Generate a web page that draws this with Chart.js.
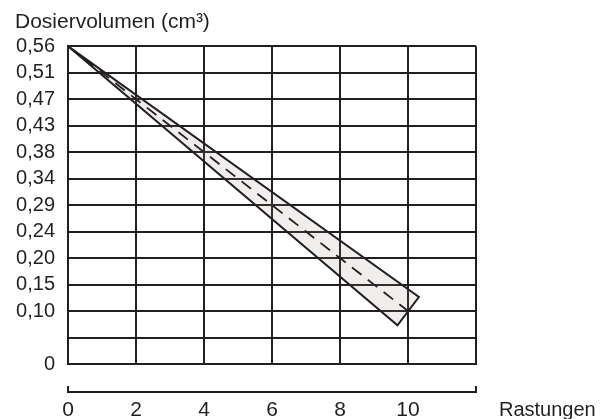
<!DOCTYPE html>
<html lang="de">
<head>
    <meta charset="UTF-8">
    <title>Dosiervolumen</title>
    <script src="https://cdn.jsdelivr.net/npm/chart.js"></script>
    <style>
        html, body { margin: 0; padding: 0; background: #fff; }
        .chart-box { width: 608px; height: 419px; }
    </style>
</head>
<body>
    <div class="chart-box">
        <canvas id="doseChart" width="608" height="419"></canvas>
    </div>
    <script>
    // y axis is drawn in equal grid rows, the labels are the printed volumes
    const yTickLabels = ['0', '', '0,10', '0,15', '0,20', '0,24', '0,29', '0,34', '0,38', '0,43', '0,47', '0,51', '0,56'];
    const xTicks = [0, 2, 4, 6, 8, 10];
    // nominal (dashed) line, grid rows
    const nominalX = [0, 10];
    const nominalY = [12, 2];
    // tolerance band outline, grid rows
    const bandX = [0, 10.32, 9.69, 0];
    const bandY = [12, 2.53, 1.46, 12];

    const ink = '#231f20';
    const font = 'Liberation Sans, Arial, Helvetica, sans-serif';

    const toPoints = (xs, ys) => xs.map((x, i) => ({ x: x, y: ys[i] }));

    // axis bracket below the grid and the "Rastungen" label
    const extras = {
        id: 'extras',
        afterDraw(chart) {
            const ctx = chart.ctx;
            const xs = chart.scales.x;
            const y = xs.top + 28;
            ctx.save();
            ctx.strokeStyle = ink;
            ctx.lineWidth = 2;
            ctx.beginPath();
            ctx.moveTo(xs.left, y - 6);
            ctx.lineTo(xs.left, y);
            ctx.lineTo(xs.right, y);
            ctx.lineTo(xs.right, y - 6);
            ctx.stroke();
            ctx.fillStyle = ink;
            ctx.font = '20px ' + font;
            ctx.textAlign = 'left';
            ctx.textBaseline = 'alphabetic';
            ctx.fillText('Rastungen', xs.right + 23, xs.top + 52);
            ctx.restore();
        }
    };

    new Chart(document.getElementById('doseChart').getContext('2d'), {
        type: 'line',
        data: {
            datasets: [
                {
                    label: 'Soll',
                    data: toPoints(nominalX, nominalY),
                    borderColor: ink,
                    borderWidth: 1.8,
                    borderDash: [12, 8],
                    pointRadius: 0,
                    fill: false,
                    order: 0
                },
                {
                    label: 'Toleranz',
                    data: toPoints(bandX, bandY),
                    borderColor: ink,
                    borderWidth: 2,
                    backgroundColor: 'rgba(150,140,130,0.15)',
                    pointRadius: 0,
                    fill: 'shape',
                    order: 1
                }
            ]
        },
        options: {
            responsive: false,
            animation: false,
            layout: { padding: { top: 10, left: 15, right: 132, bottom: 0 } },
            plugins: {
                legend: { display: false },
                tooltip: { enabled: false },
                title: {
                    display: true,
                    text: 'Dosiervolumen (cm³)',
                    align: 'start',
                    color: ink,
                    font: { family: font, size: 21, weight: 'normal', lineHeight: 1.2 },
                    padding: { top: 0, bottom: 11 }
                }
            },
            scales: {
                x: {
                    type: 'linear',
                    min: 0,
                    max: 12,
                    afterFit: s => { s.height = 55; },
                    afterBuildTicks: s => { s.ticks = xTicks.concat([12]).map(v => ({ value: v })); },
                    ticks: {
                        color: ink,
                        padding: 34,
                        maxRotation: 0,
                        font: { family: font, size: 21 },
                        callback: v => (xTicks.includes(v) ? String(v) : '')
                    },
                    grid: { color: ink, lineWidth: 2, drawTicks: false },
                    border: { color: ink, width: 2 }
                },
                y: {
                    type: 'linear',
                    min: 0,
                    max: 12,
                    afterFit: s => { s.width = 53; },
                    ticks: {
                        stepSize: 1,
                        autoSkip: false,
                        color: ink,
                        padding: 13,
                        font: { family: font, size: 20 },
                        callback: v => yTickLabels[v]
                    },
                    grid: { color: ink, lineWidth: 2, drawTicks: false },
                    border: { color: ink, width: 2 }
                }
            }
        },
        plugins: [extras]
    });
    </script>
</body>
</html>
